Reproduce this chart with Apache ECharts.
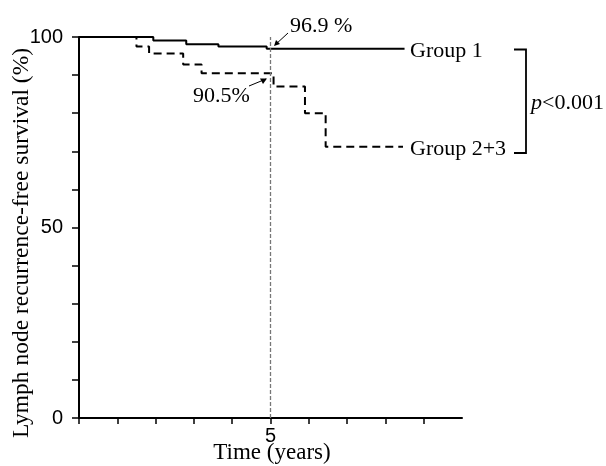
<!DOCTYPE html>
<html><head><meta charset="utf-8">
<script src="https://cdn.jsdelivr.net/npm/echarts@6/dist/echarts.min.js"></script>
<style>html,body{margin:0;padding:0;background:#fff}#c{width:606px;height:466px}</style>
</head><body><div id="c"></div>
<script>
// Time (years) of each step and survival (%) after the step
const group1Times = [0, 1.94, 2.8, 3.64, 4.9, 8.5];
const group1Values = [100, 99.1, 98.1, 97.5, 96.9, 96.9];
const group23Times = [0, 1.5, 1.83, 2.72, 3.2, 5.08, 5.9, 6.44, 8.46];
const group23Values = [100, 97.5, 95.7, 92.8, 90.5, 87.0, 80.0, 71.2, 71.2];
const xTickValues = [0, 1, 2, 3, 4, 5, 6, 7, 8, 9];
const xLabelValues = [5];
const yLabelValues = [0, 50, 100];
const refYear = 5;

const serif = '"Liberation Serif", "DejaVu Serif", serif';
const sans = '"Liberation Sans", Arial, sans-serif';

const chart = echarts.init(document.getElementById('c'));
chart.setOption({
  animation: false,
  grid: {left: 79, right: 144, top: 37, bottom: 48},
  xAxis: {
    type: 'value', min: 0, max: 10, interval: 1,
    axisLine: {lineStyle: {color: '#000', width: 2}},
    axisTick: {show: true, length: 6, lineStyle: {color: '#000', width: 1.5}, customValues: xTickValues},
    axisLabel: {customValues: xLabelValues, color: '#000', fontFamily: sans, fontSize: 20, margin: 8},
    splitLine: {show: false}
  },
  yAxis: {
    type: 'value', min: 0, max: 100, interval: 10,
    axisLine: {show: true, lineStyle: {color: '#000', width: 2}},
    axisTick: {show: true, length: 7, lineStyle: {color: '#000', width: 1.5}},
    axisLabel: {color: '#000', fontFamily: sans, fontSize: 20, margin: 16,
      formatter: v => yLabelValues.includes(v) ? String(v) : ''},
    splitLine: {show: false}
  },
  series: [
    {
      type: 'line', step: 'end', symbol: 'none',
      data: group1Times.map((t, i) => [t, group1Values[i]]),
      lineStyle: {color: '#000', width: 2},
      markLine: {
        silent: true, symbol: 'none', label: {show: false},
        lineStyle: {color: '#777', type: [4, 2], width: 1.3},
        data: [{xAxis: refYear}]
      }
    },
    {
      type: 'line', step: 'end', symbol: 'none',
      data: group23Times.map((t, i) => [t, group23Values[i]]),
      lineStyle: {color: '#000', width: 2, type: [8, 5]}
    }
  ],
  graphic: [
    {type: 'text', x: 22, y: 243, rotation: Math.PI / 2,
      style: {text: 'Lymph node recurrence-free survival (%)', font: '23.5px ' + serif, fill: '#000', align: 'center', verticalAlign: 'middle'}},
    {type: 'text', x: 272, y: 453,
      style: {text: 'Time (years)', font: '23px ' + serif, fill: '#000', align: 'center', verticalAlign: 'middle'}},
    {type: 'text', x: 410, y: 51,
      style: {text: 'Group 1', font: '22px ' + serif, fill: '#000', align: 'left', verticalAlign: 'middle'}},
    {type: 'text', x: 410, y: 149,
      style: {text: 'Group 2+3', font: '22px ' + serif, fill: '#000', align: 'left', verticalAlign: 'middle'}},
    {type: 'text', x: 290, y: 26,
      style: {text: '96.9 %', font: '22px ' + serif, fill: '#000', align: 'left', verticalAlign: 'middle'}},
    {type: 'text', x: 193, y: 96,
      style: {text: '90.5%', font: '22px ' + serif, fill: '#000', align: 'left', verticalAlign: 'middle'}},
    {type: 'text', x: 531, y: 103,
      style: {rich: {i: {fontStyle: 'italic', fontFamily: serif, fontSize: 22}, n: {fontFamily: serif, fontSize: 22}},
        text: '{i|p}{n|<0.001}', fill: '#000', align: 'left', verticalAlign: 'middle'}},
    {type: 'polyline', shape: {points: [[514, 49.5], [526, 49.5], [526, 153], [514, 153]]},
      style: {stroke: '#000', lineWidth: 1.8, fill: null}},
    // arrow 96.9
    {type: 'line', shape: {x1: 288, y1: 33, x2: 275, y2: 45}, style: {stroke: '#000', lineWidth: 1}},
    {type: 'polygon', shape: {points: [[274, 46], [276, 40], [280, 44]]}, style: {fill: '#000'}},
    // arrow 90.5
    {type: 'line', shape: {x1: 249, y1: 86, x2: 266, y2: 79}, style: {stroke: '#000', lineWidth: 1}},
    {type: 'polygon', shape: {points: [[267, 78.5], [260, 78.5], [263, 84]]}, style: {fill: '#000'}}
  ]
});
</script></body></html>
